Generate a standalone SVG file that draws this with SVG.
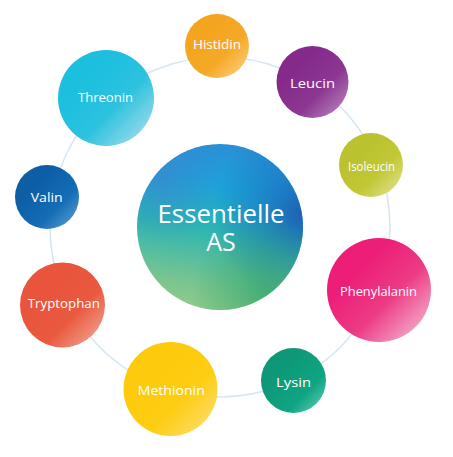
<svg xmlns="http://www.w3.org/2000/svg" width="453" height="457" viewBox="0 0 453 457">
<style>
.lbl{font-family:"Open Sans","Noto Sans",sans-serif;fill:#ffffff;text-anchor:middle;font-size:13.5px}
.big{font-family:"Open Sans","Noto Sans",sans-serif;fill:#ffffff;text-anchor:middle;font-size:25px}
.ring{fill:none;stroke:#d6e7f4;stroke-width:1.6}
</style>
<defs>
<linearGradient id="gc" x1="0.5" y1="0" x2="0.35" y2="1">
<stop offset="0" stop-color="#2a8fd6"/>
<stop offset="0.25" stop-color="#1aa6da"/>
<stop offset="0.5" stop-color="#2ab5b4"/>
<stop offset="0.85" stop-color="#7cc58e"/>
<stop offset="1" stop-color="#8fcb8c"/>
</linearGradient>
<radialGradient id="gr" cx="1" cy="0.42" r="0.55">
<stop offset="0" stop-color="#1c5cb4" stop-opacity="0.95"/>
<stop offset="0.5" stop-color="#1c6cbc" stop-opacity="0.5"/>
<stop offset="1" stop-color="#1c6cbc" stop-opacity="0"/>
</radialGradient>
<radialGradient id="gbr" cx="0.78" cy="0.9" r="0.45">
<stop offset="0" stop-color="#2fa468" stop-opacity="0.7"/>
<stop offset="1" stop-color="#2fa468" stop-opacity="0"/>
</radialGradient>
<radialGradient id="gtl" cx="0.15" cy="0.2" r="0.4">
<stop offset="0" stop-color="#4a78c8" stop-opacity="0.5"/>
<stop offset="1" stop-color="#4a78c8" stop-opacity="0"/>
</radialGradient>
<linearGradient id="g-thr" x1="0.3" y1="0.3" x2="0.95" y2="0.95"><stop offset="0" stop-color="#1dbfdf"/><stop offset="0.45" stop-color="#2cc2df"/><stop offset="1" stop-color="#a9deea"/></linearGradient>
<linearGradient id="g-his" x1="0.3" y1="0.3" x2="0.95" y2="0.95"><stop offset="0" stop-color="#f4a51f"/><stop offset="0.5" stop-color="#f5a927"/><stop offset="1" stop-color="#fcd080"/></linearGradient>
<linearGradient id="g-leu" x1="0.3" y1="0.3" x2="0.95" y2="0.95"><stop offset="0" stop-color="#852a8b"/><stop offset="0.5" stop-color="#8c3792"/><stop offset="1" stop-color="#bb86bd"/></linearGradient>
<linearGradient id="g-iso" x1="0.3" y1="0.3" x2="0.95" y2="0.95"><stop offset="0" stop-color="#bbc22f"/><stop offset="0.5" stop-color="#c2c835"/><stop offset="1" stop-color="#e0e290"/></linearGradient>
<linearGradient id="g-val" x1="0.3" y1="0.3" x2="0.95" y2="0.95"><stop offset="0" stop-color="#0d5ea5"/><stop offset="0.55" stop-color="#136db5"/><stop offset="1" stop-color="#5c9dd0"/></linearGradient>
<linearGradient id="g-try" x1="0.3" y1="0.3" x2="0.95" y2="0.95"><stop offset="0" stop-color="#e8543c"/><stop offset="0.5" stop-color="#e9593f"/><stop offset="1" stop-color="#f2a896"/></linearGradient>
<linearGradient id="g-met" x1="0.3" y1="0.3" x2="0.95" y2="0.95"><stop offset="0" stop-color="#fdcb0b"/><stop offset="0.5" stop-color="#fdcd14"/><stop offset="1" stop-color="#fede70"/></linearGradient>
<linearGradient id="g-phe" x1="0.3" y1="0.3" x2="0.95" y2="0.95"><stop offset="0" stop-color="#ec1e78"/><stop offset="0.45" stop-color="#ec3b84"/><stop offset="1" stop-color="#f4bcd2"/></linearGradient>
<linearGradient id="g-lys" x1="0.3" y1="0.3" x2="0.95" y2="0.95"><stop offset="0" stop-color="#0e9877"/><stop offset="0.6" stop-color="#0fa583"/><stop offset="1" stop-color="#5fcbb0"/></linearGradient>
</defs>
<rect width="453" height="457" fill="#ffffff"/>
<g id="connectors">
<circle class="ring" cx="220" cy="227" r="170"/>
</g>
<g id="center">
<circle cx="220" cy="227" r="83" fill="url(#gc)"/>
<circle cx="220" cy="227" r="83" fill="url(#gr)"/>
<circle cx="220" cy="227" r="83" fill="url(#gbr)"/>
<circle cx="220" cy="227" r="83" fill="url(#gtl)"/>
<text class="big"><tspan x="221" y="223" textLength="127" lengthAdjust="spacingAndGlyphs">Essentielle</tspan><tspan x="221" y="251">AS</tspan></text>
</g>
<g id="histidin">
<circle cx="217" cy="46" r="32" fill="url(#g-his)"/>
<text class="lbl" x="217" y="49" textLength="48" lengthAdjust="spacingAndGlyphs">Histidin</text>
</g>
<g id="leucin">
<circle cx="312.5" cy="82" r="36" fill="url(#g-leu)"/>
<text class="lbl" x="312.5" y="88" textLength="45" lengthAdjust="spacingAndGlyphs">Leucin</text>
</g>
<g id="isoleucin">
<circle cx="371" cy="165" r="32" fill="url(#g-iso)"/>
<text class="lbl" x="371.5" y="171" textLength="47" lengthAdjust="spacingAndGlyphs">Isoleucin</text>
</g>
<g id="phenylalanin">
<circle cx="379" cy="290" r="52" fill="url(#g-phe)"/>
<text class="lbl" x="378.5" y="296" textLength="77" lengthAdjust="spacingAndGlyphs">Phenylalanin</text>
</g>
<g id="lysin">
<circle cx="293.5" cy="380.5" r="32.5" fill="url(#g-lys)"/>
<text class="lbl" x="293.5" y="387" textLength="35" lengthAdjust="spacingAndGlyphs">Lysin</text>
</g>
<g id="methionin">
<circle cx="170.5" cy="389" r="47" fill="url(#g-met)"/>
<text class="lbl" x="171.3" y="395" textLength="67" lengthAdjust="spacingAndGlyphs">Methionin</text>
</g>
<g id="tryptophan">
<circle cx="62.5" cy="305" r="42.5" fill="url(#g-try)"/>
<text class="lbl" x="63.8" y="308" textLength="72" lengthAdjust="spacingAndGlyphs">Tryptophan</text>
</g>
<g id="valin">
<circle cx="47" cy="197" r="32" fill="url(#g-val)"/>
<text class="lbl" x="46.7" y="202" textLength="32" lengthAdjust="spacingAndGlyphs">Valin</text>
</g>
<g id="threonin">
<circle cx="106" cy="98" r="48" fill="url(#g-thr)"/>
<text class="lbl" x="105.5" y="102" textLength="55" lengthAdjust="spacingAndGlyphs">Threonin</text>
</g>
</svg>
